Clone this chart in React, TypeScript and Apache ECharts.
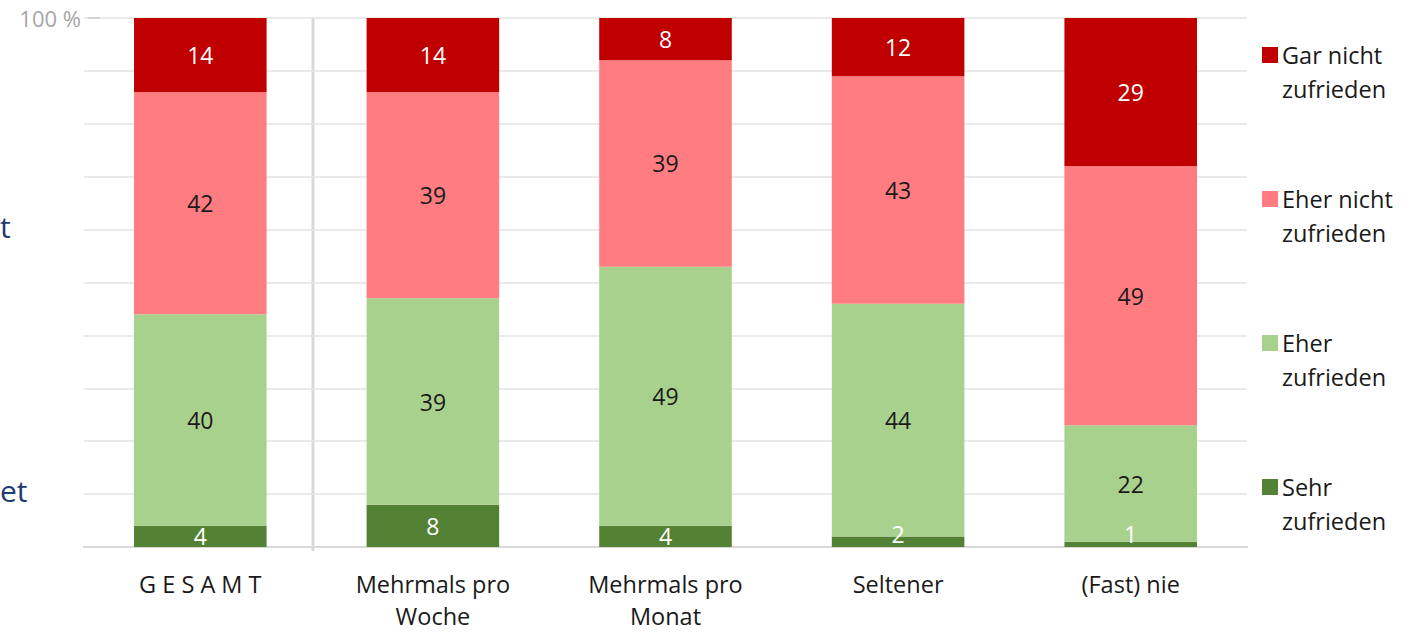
import React, { useEffect, useRef } from "react";
import * as echarts from "echarts";

const categories = ["G E S A M T", "Mehrmals pro\nWoche", "Mehrmals pro\nMonat", "Seltener", "(Fast) nie"];
const sehrZufrieden = [4, 8, 4, 2, 1];
const eherZufrieden = [40, 39, 49, 44, 22];
const eherNichtZufrieden = [42, 39, 39, 43, 49];
const garNichtZufrieden = [14, 14, 8, 12, 29];
const seriesNames = ["Sehr zufrieden", "Eher zufrieden", "Eher nicht zufrieden", "Gar nicht zufrieden"];
const legendLabels = ["Gar nicht\nzufrieden", "Eher nicht\nzufrieden", "Eher\nzufrieden", "Sehr\nzufrieden"];
const colors = ["#548235", "#A9D18E", "#FF7C80", "#C00000"];
const labelColors = ["#ffffff", "#1a1a1a", "#1a1a1a", "#ffffff"];
const FONT = "'Open Sans', 'Noto Sans', sans-serif";

export default function App() {
  const ref = useRef<HTMLDivElement>(null);
  useEffect(() => {
    if (!ref.current) return;
    const chart = echarts.init(ref.current, null, { renderer: "svg" });
    const values = [sehrZufrieden, eherZufrieden, eherNichtZufrieden, garNichtZufrieden];
    const series = values.map((vals, si) => ({
      name: seriesNames[si],
      type: "bar",
      stack: "total",
      barWidth: "57%",
      itemStyle: { color: colors[si] },
      label: {
        show: true,
        position: "inside",
        color: labelColors[si],
        fontSize: 23,
        fontFamily: FONT,
      },
      data: vals.map((v) =>
        v < 3
          ? { value: v, label: { position: "insideBottom", distance: 2 } }
          : { value: v }
      ),
    }));

    const legendGraphics: any[] = [];
    legendLabels.forEach((txt, i) => {
      legendGraphics.push({
        type: "rect",
        shape: { x: 1262, y: 47 + i * 144, width: 16, height: 16 },
        style: { fill: colors[3 - i] },
      });
      legendGraphics.push({
        type: "text",
        x: 1282,
        y: 38 + i * 144,
        style: {
          text: txt,
          fontSize: 23.5,
          lineHeight: 34,
          fontFamily: FONT,
          fill: "#1a1a1a",
          verticalAlign: "top",
          align: "left",
        },
      });
    });

    chart.setOption({
      animation: false,
      legend: { show: false, data: seriesNames },
      grid: { left: 84, right: 167, top: 18, bottom: 81, containLabel: false },
      xAxis: {
        type: "category",
        data: categories,
        axisLine: { lineStyle: { color: "#d9d9d9", width: 2 } },
        axisTick: { show: false },
        axisLabel: {
          fontSize: 23.5,
          lineHeight: 32,
          margin: 21,
          color: "#1a1a1a",
          fontFamily: FONT,
          interval: 0,
        },
        splitLine: { show: false },
      },
      yAxis: {
        type: "value",
        min: 0,
        max: 100,
        interval: 10,
        axisLine: { show: false },
        axisTick: { show: false },
        axisLabel: {
          formatter: (v: number) => (v === 100 ? "100 %" : ""),
          color: "#a6a6a6",
          fontSize: 22,
          fontFamily: FONT,
          margin: 3,
        },
        splitLine: { lineStyle: { color: "#e3e3e3", width: 1.5 } },
      },
      series,
      graphic: [
        {
          type: "line",
          shape: { x1: 313, y1: 18, x2: 313, y2: 551 },
          style: { stroke: "#d9d9d9", lineWidth: 3 },
        },
        {
          type: "line",
          shape: { x1: 88, y1: 18, x2: 100, y2: 18 },
          style: { stroke: "#a6a6a6", lineWidth: 2 },
        },
        {
          type: "text",
          x: 0,
          y: 226,
          style: { text: "t", fontSize: 30, fontFamily: FONT, fill: "#1f3b73", align: "left", verticalAlign: "middle" },
        },
        {
          type: "text",
          x: 0,
          y: 490,
          style: { text: "et", fontSize: 30, fontFamily: FONT, fill: "#1f3b73", align: "left", verticalAlign: "middle" },
        },
        ...legendGraphics,
      ],
    });
    return () => chart.dispose();
  }, []);
  return (
    <div
      ref={ref}
      style={{ position: "fixed", left: 0, top: 0, width: 1414, height: 632, background: "#ffffff" }}
    />
  );
}
